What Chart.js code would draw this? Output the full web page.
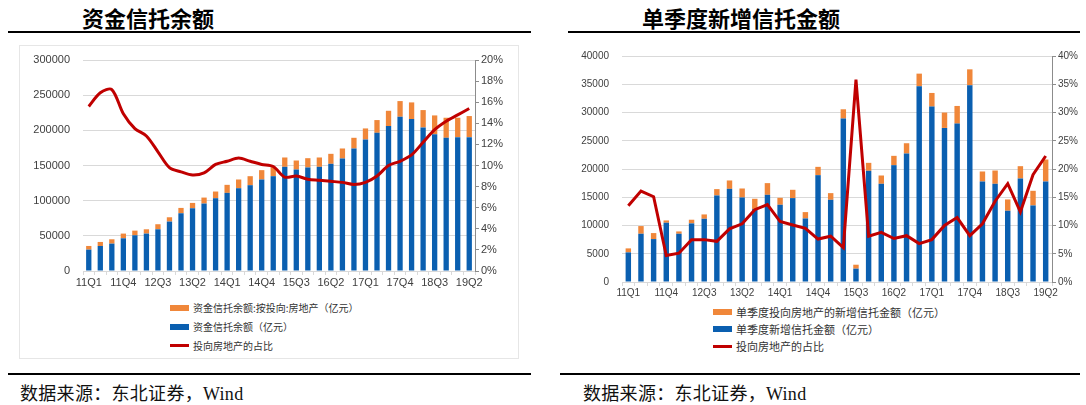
<!DOCTYPE html>
<html>
<head>
<meta charset="utf-8">
<script src="https://cdn.jsdelivr.net/npm/chart.js@4.4.1/dist/chart.umd.min.js"></script>
<style>
  body { margin: 0; background: #fff; width: 1086px; height: 405px; position: relative; overflow: hidden;
         font-family: "Liberation Serif", "Noto Sans CJK SC", serif; }
  .title { position: absolute; top: 1px; font: bold 22px "Noto Sans CJK SC", sans-serif; color: #000; white-space: nowrap; }
  .rule { position: absolute; height: 2px; background: #000; }
  .source { position: absolute; top: 379px; font-size: 18px; color: #111; white-space: nowrap; letter-spacing: 0.3px; }
  .box { position: absolute; }
  .frame { position: absolute; border: 1px solid #e6e6e6; }
  .legend { position: absolute; font-family: "Noto Sans CJK SC", sans-serif; color: #333; white-space: nowrap; }
  .legend div { position: absolute; left: 0; display: flex; align-items: center; }
  .legend span.patch { display: inline-block; width: 19px; margin-right: 4px; }
</style>
</head>
<body>

<div class="title" style="left:82px;">资金信托余额</div>
<div class="title" style="left:642px;">单季度新增信托金额</div>
<div class="rule" style="left:8px; width:523px; top:31px;"></div>
<div class="rule" style="left:568px; width:512px; top:31px;"></div>

<div class="frame" style="left:19px; top:45px; width:498px; height:312px;"></div>
<div class="box" style="left:19px; top:45px; width:499px; height:250px;"><canvas id="balanceChart"></canvas></div>
<div class="box" style="left:565px; top:41px; width:515px; height:260px;"><canvas id="newChart"></canvas></div>

<div class="legend" id="balanceLegend" style="left:170px; top:300px; font-size:10px;"></div>
<div class="legend" id="newLegend" style="left:713px; top:304px; font-size:11px;"></div>

<div class="rule" style="left:8px; width:523px; top:373px;"></div>
<div class="rule" style="left:560px; width:520px; top:373px;"></div>
<div class="source" style="left:20px;">数据来源：东北证券，Wind</div>
<div class="source" style="left:583px;">数据来源：东北证券，Wind</div>

<script>
// 季度
const quarters = ['11Q1', '11Q2', '11Q3', '11Q4', '12Q1', '12Q2', '12Q3', '12Q4',
    '13Q1', '13Q2', '13Q3', '13Q4', '14Q1', '14Q2', '14Q3', '14Q4',
    '15Q1', '15Q2', '15Q3', '15Q4', '16Q1', '16Q2', '16Q3', '16Q4',
    '17Q1', '17Q2', '17Q3', '17Q4', '18Q1', '18Q2', '18Q3', '18Q4',
    '19Q1', '19Q2'];

// 资金信托余额（亿元）
const balanceTotal = [30400, 35600, 38900, 46500, 50800, 53200, 59300, 70300,
    82100, 89200, 95900, 103500, 111100, 117700, 122000, 130100,
    134800, 148100, 144300, 147200, 148100, 152400, 160000, 174200,
    187000, 196500, 206000, 219300, 216000, 204100, 194600, 189400,
    190300, 190300];
// 资金信托余额:按投向:房地产（亿元）
const balanceEstate = [5200, 5700, 6200, 6700, 6600, 6100, 7200, 6100,
    7600, 7600, 8500, 9500, 11400, 12400, 12800, 13300,
    12800, 13300, 12800, 13200, 13300, 14200, 14200, 15200,
    15700, 18100, 21800, 22300, 23700, 24700, 26600, 28500,
    27600, 30000];
// 投向房地产的占比（%）
const balanceShare = [15.6, 16.9, 17.2, 14.9, 13.5, 12.8, 11.3, 9.8,
    9.4, 9.1, 9.3, 10.1, 10.4, 10.7, 10.4, 10.1,
    9.9, 8.9, 9.0, 8.7, 8.6, 8.5, 8.4, 8.2,
    8.4, 9.0, 10.0, 10.4, 11.0, 12.2, 13.4, 14.2,
    14.8, 15.4];

// 单季度新增信托金额（亿元）
const newTotal = [5240, 8540, 7600, 10490, 8540, 10370, 11190, 15320,
    16490, 14960, 12900, 15430, 13670, 14850, 11250, 18910,
    14550, 28930, 2360, 19680, 17380, 20680, 22740, 34640,
    31050, 27270, 28040, 34810, 17790, 17380, 12610, 18320,
    13550, 17790];
// 单季度投向房地产的新增信托金额（亿元）
const newEstate = [710, 1360, 1060, 410, 410, 650, 770, 1120,
    1480, 1590, 1830, 2070, 1230, 1470, 1120, 1470,
    1180, 1640, 700, 1410, 1470, 1650, 1820, 2240,
    2410, 2720, 3120, 2830, 1770, 2350, 2000, 2180,
    2590, 3890];
// 投向房地产的占比（%）
const newShare = [13.5, 16.1, 15.1, 4.7, 5.1, 7.5, 7.5, 7.2,
    9.4, 10.3, 12.8, 13.7, 10.7, 10.1, 9.5, 7.6,
    8.1, 6.1, 35.8, 8.1, 8.8, 7.7, 8.2, 6.8,
    7.5, 10.0, 11.4, 8.2, 10.3, 14.3, 17.4, 12.4,
    19.0, 22.3];

const colors = {
    blue: '#0a5fb0',
    orange: '#f0873a',
    red: '#c00000',
    grid: '#d9d9d9',
    tick: '#404040'
};

function buildChart(id, cfg) {
    const tickFont = { family: 'Liberation Sans', size: cfg.fontSize };
    return new Chart(document.getElementById(id), {
        type: 'bar',
        data: {
            labels: quarters,
            datasets: [
                { type: 'line', label: cfg.names[2], data: cfg.share, yAxisID: 'y1',
                  borderColor: colors.red, borderWidth: 3, pointRadius: 0,
                  tension: cfg.tension, order: 0 },
                { label: cfg.names[1], data: cfg.total, backgroundColor: colors.blue,
                  stack: 's', order: 1, categoryPercentage: 1, barPercentage: cfg.barPct },
                { label: cfg.names[0], data: cfg.estate, backgroundColor: colors.orange,
                  stack: 's', order: 2, categoryPercentage: 1, barPercentage: cfg.barPct }
            ]
        },
        options: {
            responsive: true,
            maintainAspectRatio: false,
            animation: false,
            layout: { padding: { top: cfg.padTop, left: 0, right: 0, bottom: 0 } },
            plugins: { legend: { display: false }, tooltip: { enabled: false } },
            scales: {
                x: {
                    stacked: true,
                    afterFit: s => { s.height = cfg.xHeight; },
                    grid: { display: true, drawOnChartArea: false, offset: true, tickLength: 4, color: colors.grid },
                    border: { display: true, color: colors.grid },
                    ticks: {
                        autoSkip: false, maxRotation: 0, padding: 1, color: colors.tick, font: tickFont,
                        callback: (v, i) => (i % 3 === 0 ? quarters[i] : '')
                    }
                },
                y: {
                    stacked: true, position: 'left', min: 0, max: cfg.max,
                    afterFit: s => { s.width = cfg.leftWidth; },
                    // invisible tick marks keep the labels away from the plot
                    grid: { color: colors.grid, drawTicks: true, tickLength: cfg.leftGap, tickColor: 'rgba(0,0,0,0)' },
                    border: { display: false },
                    ticks: { stepSize: cfg.step, padding: 2, color: colors.tick, font: tickFont,
                             callback: v => String(v) }
                },
                y1: {
                    position: 'right', min: 0, max: cfg.shareMax,
                    afterFit: s => { s.width = cfg.rightWidth; },
                    grid: { drawOnChartArea: false, tickLength: 4, color: '#8c8c8c' },
                    border: { display: true, color: '#8c8c8c' },
                    ticks: { stepSize: cfg.shareStep, padding: 2, color: colors.tick, font: tickFont,
                             callback: v => v + '%' }
                }
            }
        }
    });
}

function buildLegend(id, names, gap) {
    const box = document.getElementById(id);
    const patches = [
        'height:6px;background:' + colors.orange,
        'height:6px;background:' + colors.blue,
        'height:3px;background:' + colors.red
    ];
    names.forEach((name, i) => {
        const row = document.createElement('div');
        row.style.top = (i * gap) + 'px';
        row.innerHTML = '<span class="patch" style="' + patches[i] + '"></span>' + name;
        box.appendChild(row);
    });
}

const balanceNames = ['资金信托余额:按投向:房地产（亿元）', '资金信托余额（亿元）', '投向房地产的占比'];
const newNames = ['单季度投向房地产的新增信托金额（亿元）', '单季度新增信托金额（亿元）', '投向房地产的占比'];

buildChart('balanceChart', {
    names: balanceNames, total: balanceTotal, estate: balanceEstate, share: balanceShare,
    max: 300000, step: 50000, shareMax: 20, shareStep: 2, tension: 0.3,
    padTop: 15, xHeight: 24, leftWidth: 64, rightWidth: 43, leftGap: 11,
    barPct: 0.46, fontSize: 11
});

buildChart('newChart', {
    names: newNames, total: newTotal, estate: newEstate, share: newShare,
    max: 40000, step: 5000, shareMax: 40, shareStep: 5, tension: 0,
    padTop: 15, xHeight: 19, leftWidth: 57, rightWidth: 28, leftGap: 11,
    barPct: 0.43, fontSize: 10
});

buildLegend('balanceLegend', balanceNames, 19);
buildLegend('newLegend', newNames, 17);
</script>
</body>
</html>
